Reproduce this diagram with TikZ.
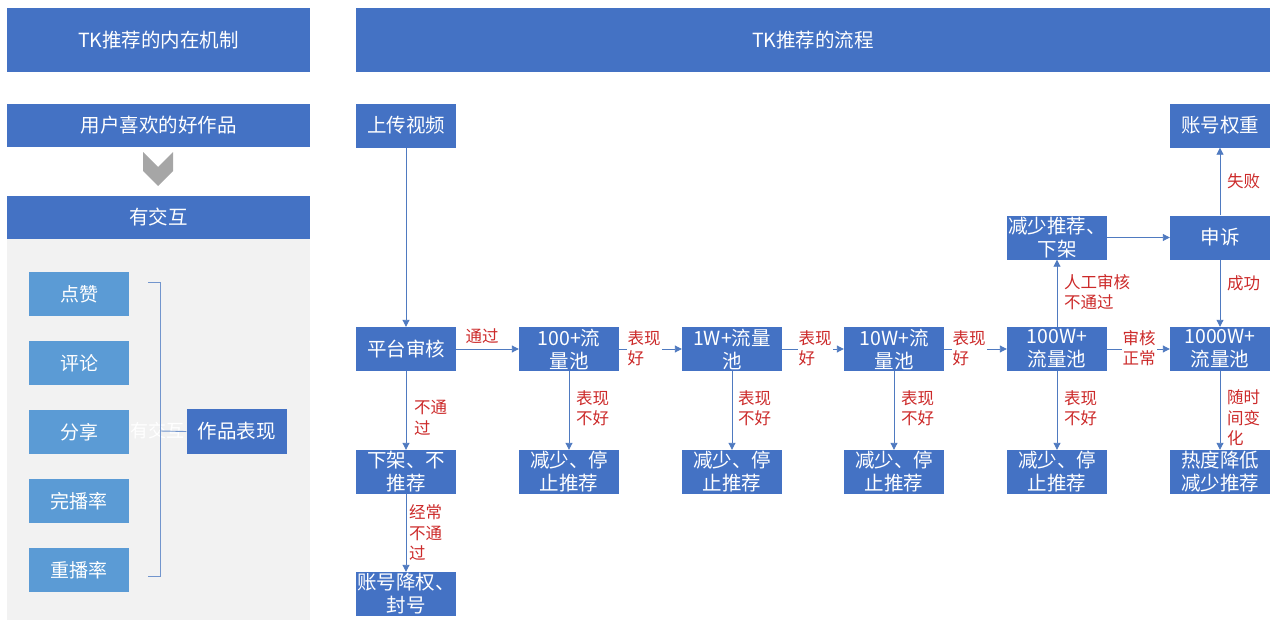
\documentclass[tikz,border=0pt]{standalone}
\usepackage{fontspec}
\setmainfont{Noto Sans CJK SC}
\usetikzlibrary{arrows.meta}
\definecolor{hdr}{HTML}{4472C4}
\definecolor{lb}{HTML}{5B9BD5}
\definecolor{pan}{HTML}{F2F2F2}
\definecolor{arr}{HTML}{4F7AC0}
\definecolor{lab}{HTML}{CC2A2A}
\definecolor{chev}{HTML}{A6A6A6}
\tikzset{
  hbox/.style={fill=hdr, text=white, inner sep=0pt, align=center, font=\fontsize{19.5}{23}\selectfont},
  fbox/.style={fill=hdr, text=white, inner sep=0pt, minimum width=100pt, minimum height=44pt, align=center, font=\fontsize{19.5}{23}\selectfont},
  sbox/.style={fill=lb, text=white, inner sep=0pt, minimum width=100pt, minimum height=44pt, align=center, font=\fontsize{19}{22}\selectfont},
  conn/.style={draw=arr, line width=0.9pt, -{Triangle[length=7pt,width=7pt]}},
  lbl/.style={text=lab, inner sep=1pt, align=left, font=\fontsize{16.5}{20.5}\selectfont},
  lblw/.style={lbl, fill=white},
}
\begin{document}
\begin{tikzpicture}[x=1pt,y=-1pt]
\useasboundingbox (0,0) rectangle (1280,626);
% headers
\node[hbox, minimum width=303pt, minimum height=64pt] (h1) at (158.5,40) {TK推荐的内在机制};
\node[hbox, minimum width=914pt, minimum height=64pt] (h2) at (813,40) {TK推荐的流程};
% left column
\node[hbox, minimum width=303pt, minimum height=43pt] (fav) at (158.5,125.5) {用户喜欢的好作品};
\fill[chev] (143,152) -- (158,167) -- (173,152) -- (173,171) -- (158,186) -- (143,171) -- cycle;
\node[hbox, minimum width=303pt, minimum height=43pt] (inter) at (158.5,217.5) {有交互};
\fill[pan] (7,239) rectangle (310,620);
\node[sbox] (s1) at (79,294) {点赞};
\node[sbox] (s2) at (79,363) {评论};
\node[sbox] (s3) at (79,432) {分享};
\node[sbox] (s4) at (79,501) {完播率};
\node[sbox] (s5) at (79,570) {重播率};
\node[text=white, inner sep=0pt, font=\fontsize{18}{20}\selectfont] (ghost) at (157,431) {有交互};
\node[fbox, minimum height=45pt] (perf) at (236.5,431.5) {作品表现};
\draw[draw=arr!80, line width=0.9pt] (148,282) -- (160,282) -- (160,576) -- (148,576);
\draw[draw=arr!80, line width=0.9pt] (160,431) -- (perf.west);
% flow boxes
\node[fbox] (up) at (406,125.5) {上传视频};
\node[fbox] (rev) at (406,349) {平台审核};
\node[fbox] (off) at (406,472) {下架、不\\推荐};
\node[fbox] (ban) at (406,594) {账号降权、\\封号};
\node[fbox] (p1) at (569,349) {100+流\\量池};
\node[fbox] (p2) at (732,349) {1W+流量\\池};
\node[fbox] (p3) at (894,349) {10W+流\\量池};
\node[fbox] (p4) at (1057,349) {100W+\\流量池};
\node[fbox] (p5) at (1220,349) {1000W+\\流量池};
\node[fbox] (r1) at (569,472) {减少、停\\止推荐};
\node[fbox] (r2) at (732,472) {减少、停\\止推荐};
\node[fbox] (r3) at (894,472) {减少、停\\止推荐};
\node[fbox] (r4) at (1057,472) {减少、停\\止推荐};
\node[fbox] (heat) at (1220,472) {热度降低\\减少推荐};
\node[fbox] (less) at (1057,237.5) {减少推荐、\\下架};
\node[fbox] (app) at (1220,237.5) {申诉};
\node[fbox] (wt) at (1220,125.5) {账号权重};
% connectors
\draw[conn] (up) -- (rev);
\draw[conn] (rev) -- (p1);
\draw[conn] (p1) -- (p2);
\draw[conn] (p2) -- (p3);
\draw[conn] (p3) -- (p4);
\draw[conn] (p4) -- (p5);
\draw[conn] (rev) -- (off);
\draw[conn] (off) -- (ban);
\draw[conn] (p1) -- (r1);
\draw[conn] (p2) -- (r2);
\draw[conn] (p3) -- (r3);
\draw[conn] (p4) -- (r4);
\draw[conn] (p5) -- (heat);
\draw[conn] (p4) -- (less);
\draw[conn] (less) -- (app);
\draw[conn] (app) -- (wt);
\draw[conn] (app) -- (p5);
% labels
\node[lbl] (l0) at (482,336) {通过};
\node[lblw] (l1) at (644,348) {表现\\好};
\node[lblw] (l2) at (815,348) {表现\\好};
\node[lblw] (l3) at (969,348) {表现\\好};
\node[lblw] (l4) at (1139,348) {审核\\正常};
\node[lbl, anchor=west] (l5) at (413,418) {不通\\过};
\node[lbl, anchor=west] (l6) at (408,533) {经常\\不通\\过};
\node[lbl, anchor=west] (l7) at (575,408) {表现\\不好};
\node[lbl, anchor=west] (l8) at (737,408) {表现\\不好};
\node[lbl, anchor=west] (l9) at (900,408) {表现\\不好};
\node[lbl, anchor=west] (l10) at (1063,408) {表现\\不好};
\node[lbl, anchor=west] (l11) at (1063,292) {人工审核\\不通过};
\node[lbl, anchor=west] (l12) at (1226,181) {失败};
\node[lbl, anchor=west] (l13) at (1226,283) {成功};
\node[lbl, anchor=west] (l14) at (1226,418) {随时\\间变\\化};
\end{tikzpicture}
\end{document}
